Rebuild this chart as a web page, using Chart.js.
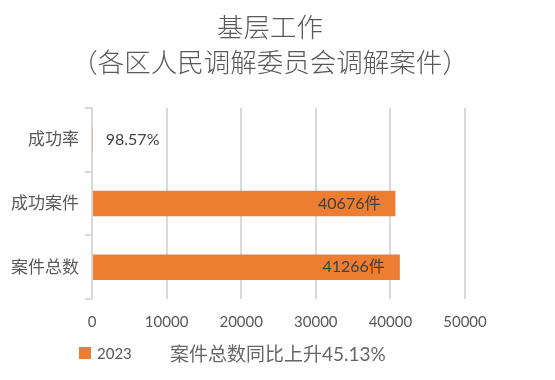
<!DOCTYPE html>
<html><head><meta charset="utf-8">
<script src="https://cdn.jsdelivr.net/npm/chart.js@4"></script>
<style>
html,body{margin:0;padding:0;background:#fff;}
#wrap{position:relative;width:555px;height:380px;}
#legend{position:absolute;left:79px;top:343px;height:20px;display:flex;align-items:center;font-family:Lato,'Noto Sans CJK SC',sans-serif;font-size:15px;color:#595959;}
#legend .sw{width:12px;height:12px;margin-right:6px;}
#note{position:absolute;left:170px;top:339px;font-family:Lato,'Noto Sans CJK SC',sans-serif;font-size:19px;color:#666;white-space:nowrap;}
</style></head>
<body>
<div id="wrap"><canvas id="c" width="555" height="380"></canvas><div id="legend"></div><div id="note"></div></div>
<script>
const categories = ['成功率', '成功案件', '案件总数'];
const seriesName = '2023';
const values2023 = [98.57, 40676, 41266];
const valueLabels = ['98.57%', '40676件', '41266件'];
const xTickMin = 0, xTickMax = 50000, xTickStep = 10000;
const titleLines = ['基层工作', '（各区人民调解委员会调解案件）'];
const noteText = '案件总数同比上升45.13%';

const FONT = "Lato, 'Noto Sans CJK SC', sans-serif";
const ORANGE = '#ED7D31';

const valueLabelPlugin = {
  id: 'valueLabels',
  afterLayout(chart) {
    const t = chart.titleBlock;
    if (t) { t.left = 5; t.right = 535; t.width = 530; }
  },
  afterDatasetsDraw(chart) {
    const ctx = chart.ctx;
    const meta = chart.getDatasetMeta(0);
    ctx.save();
    ctx.font = '16px ' + FONT;
    ctx.fillStyle = '#404040';
    ctx.textBaseline = 'middle';
    meta.data.forEach((bar, i) => {
      const t = valueLabels[i];
      const w = ctx.measureText(t).width;
      const len = bar.x - bar.base;
      if (len > w + 30) { ctx.textAlign = 'right'; ctx.fillText(t, bar.x - 15, bar.y); }
      else { ctx.textAlign = 'left'; ctx.fillText(t, bar.x + 13, bar.y); }
    });
    ctx.restore();
  }
};

const chart = new Chart(document.getElementById('c'), {
  type: 'bar',
  data: {
    labels: categories,
    datasets: [{ label: seriesName, data: values2023, backgroundColor: ORANGE, borderWidth: 0, barPercentage: 0.8, categoryPercentage: 0.5 }]
  },
  options: {
    indexAxis: 'y',
    responsive: false,
    devicePixelRatio: 1,
    animation: false,
    layout: { padding: { left: 5, right: 90, top: 0, bottom: 35 } },
    plugins: {
      legend: { display: false },
      tooltip: { enabled: false },
      title: {
        display: true, text: titleLines, color: '#595959',
        font: { family: FONT, size: 26.5, weight: 300, lineHeight: 1.32 },
        padding: { top: 11, bottom: 27 }
      }
    },
    scales: {
      x: {
        min: xTickMin, max: xTickMax,
        ticks: { stepSize: xTickStep, color: '#595959', font: { family: FONT, size: 15 }, padding: 14,
                 callback: v => String(v) },
        grid: { color: '#d9d9d9', lineWidth: 2, drawTicks: false },
        border: { display: false }
      },
      y: {
        ticks: { color: '#595959', font: { family: FONT, size: 17 }, padding: 6 },
        grid: { drawOnChartArea: false, drawTicks: true, tickLength: 7, color: '#d9d9d9', lineWidth: 2, offset: true },
        border: { display: true, color: '#d9d9d9', width: 2 }
      }
    }
  },
  plugins: [valueLabelPlugin]
});

const lg = document.getElementById('legend');
chart.data.datasets.forEach(ds => {
  const sw = document.createElement('span'); sw.className = 'sw'; sw.style.background = ds.backgroundColor;
  const tx = document.createElement('span'); tx.textContent = ds.label;
  lg.appendChild(sw); lg.appendChild(tx);
});
document.getElementById('note').textContent = noteText;
</script>
</body></html>
